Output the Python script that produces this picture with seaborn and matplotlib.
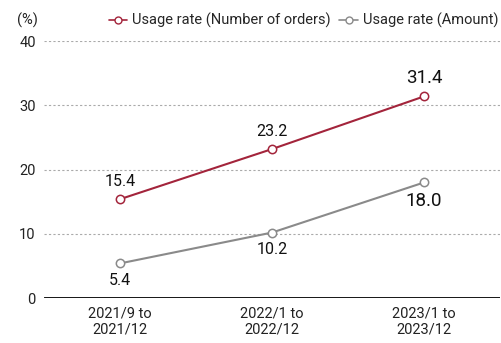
import numpy as np
import pandas as pd
import matplotlib
matplotlib.use('Agg')
import matplotlib.pyplot as plt
import seaborn as sns
from matplotlib.lines import Line2D

periods = ['2021/9 to\n2021/12', '2022/1 to\n2022/12', '2023/1 to\n2023/12']
orders_rate = [15.4, 23.2, 31.4]
amount_rate = [5.4, 10.2, 18.0]
series_names = ['Usage rate (Number of orders)', 'Usage rate (Amount)']
colors = ['#a3243b', '#8a8a8a']

sns.set_theme(style='white')
plt.rcParams['font.family'] = ['Roboto', 'DejaVu Sans']

df = pd.DataFrame({
    'period': periods * 2,
    'value': orders_rate + amount_rate,
    'series': [series_names[0]] * 3 + [series_names[1]] * 3,
})

fig = plt.figure(figsize=(5.01, 3.43), dpi=100)
ax = fig.add_axes([0.088, 0.131, 0.91, 0.749])

sns.lineplot(data=df, x='period', y='value', hue='series', palette=colors,
             marker='o', markersize=6, markerfacecolor='white', markeredgewidth=1.1,
             linewidth=1.5, sort=False, ax=ax, legend=False)
for line, c in zip(ax.lines, colors):
    line.set_markeredgecolor(c)

ax.set_xlim(-0.5, 2.5)
ax.set_ylim(0, 40)
ax.set_yticks([0, 10, 20, 30, 40])
for y in [10, 20, 30, 40]:
    ax.axhline(y, color='#aaaaaa', linestyle=(0, (2, 2)), linewidth=0.8, zorder=0)
ax.axhline(0, color='black', linewidth=2, zorder=1)
for s in ax.spines.values():
    s.set_visible(False)
ax.set_xlabel('')
ax.set_ylabel('')
ax.tick_params(axis='both', length=0, labelsize=10.5, colors='#222222')
ax.tick_params(axis='y', pad=6)
ax.tick_params(axis='x', pad=6)

# value labels (latest period shown larger)
for i, v in enumerate(orders_rate):
    big = i == 2
    ax.annotate(f'{v:.1f}', (i, v), xytext=(0, 7), textcoords='offset points',
                ha='center', va='bottom', fontsize=13.5 if big else 11.5,
                color='#111111')
for i, v in enumerate(amount_rate):
    big = i == 2
    ax.annotate(f'{v:.1f}', (i, v), xytext=(0, -7), textcoords='offset points',
                ha='center', va='top', fontsize=13.5 if big else 11.5,
                color='#111111')

fig.text(0.055, 0.94, '(%)', ha='center', va='center', fontsize=10.5, color='#222222')

handles = [Line2D([], [], color=c, marker='o', markersize=5, markerfacecolor='white',
                  markeredgecolor=c, linewidth=1.2) for c in colors]
fig.legend(handles, series_names, loc='center right', bbox_to_anchor=(1.0, 0.94),
           ncol=2, frameon=False, fontsize=10.5, handlelength=1.3, handletextpad=0.3,
           columnspacing=0.6, borderaxespad=0, borderpad=0.2)

fig.savefig('out.png', dpi=100)
